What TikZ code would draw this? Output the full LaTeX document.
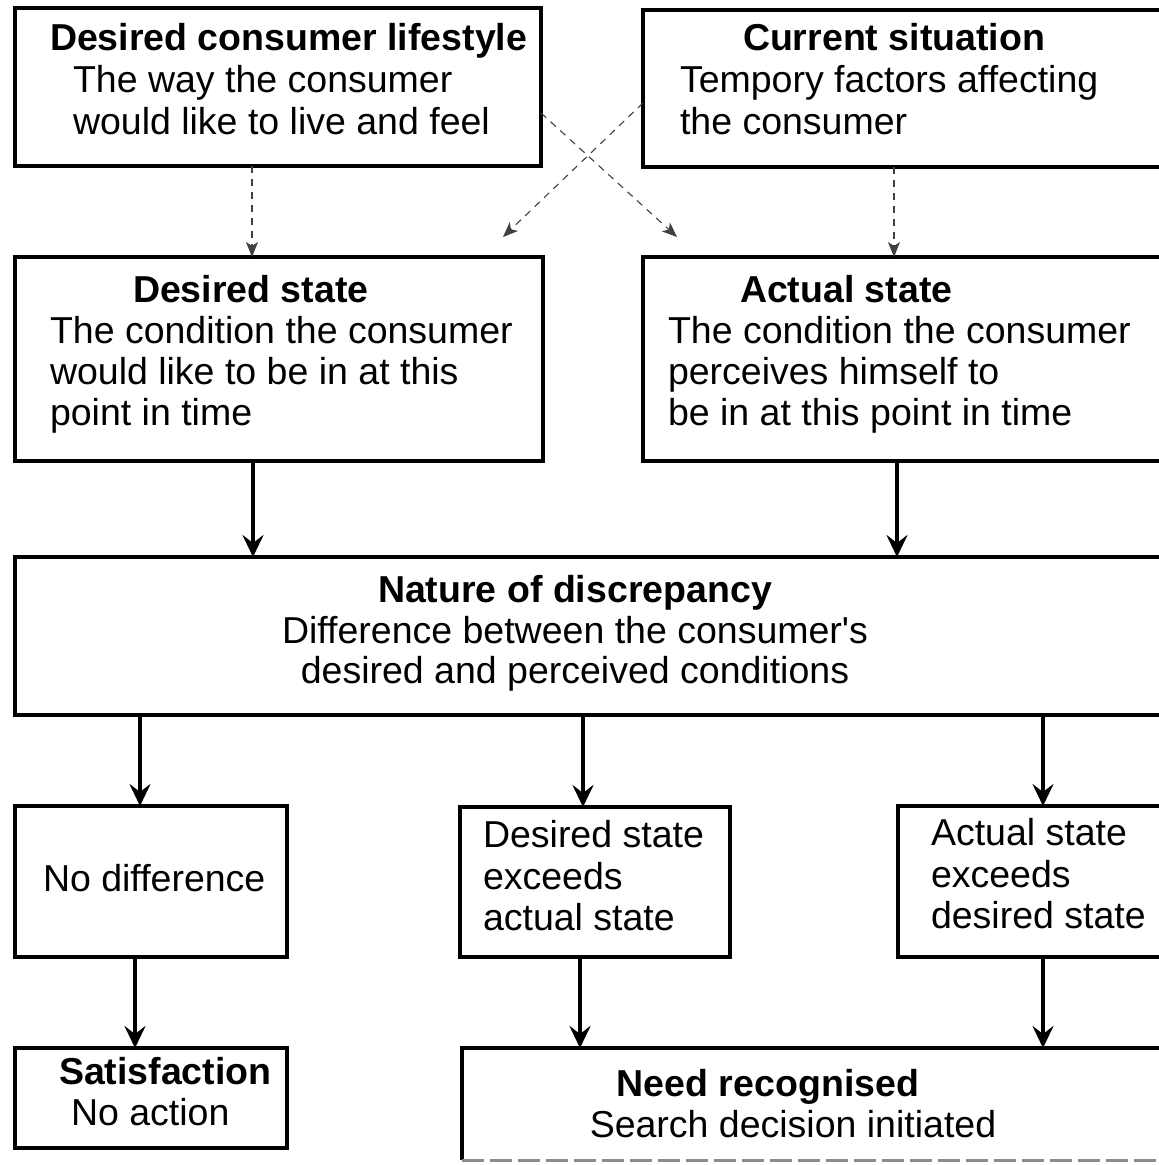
\documentclass[tikz,border=0pt]{standalone}
\usepackage{fontspec}
\setmainfont{Liberation Sans}
\usetikzlibrary{arrows.meta}
\begin{document}
\begin{tikzpicture}[x=1pt,y=-1pt,
  box/.style={draw, line width=4.8pt, rectangle, inner sep=0pt, outer sep=0pt},
  openbox/.style={rectangle, inner sep=0pt, outer sep=0pt},
  edge/.style={line width=4.8pt},
  txt/.style={inner sep=0pt, outer sep=0pt, anchor=base west,
    font=\fontsize{37.5}{41}\selectfont},
  ctxt/.style={txt, anchor=base},
  hd/.style={font=\fontsize{37.5}{41}\selectfont\bfseries},
  arr/.style={line width=4pt, -{Stealth[length=22pt,width=21pt,inset=8pt]}},
  darr/.style={line width=1.1pt, draw=black!75, dash pattern=on 7pt off 6pt,
    -{Stealth[length=15pt,width=12pt,inset=4pt]}}
]
\useasboundingbox (0,0) rectangle (1159,1165);
\clip (0,0) rectangle (1159,1165);
\fill[white] (0,0) rectangle (1159,1165);

% boxes
\node[box, minimum width=526pt, minimum height=158pt] (b1) at (278,87) {};
\node[box, minimum width=532pt, minimum height=157pt] (b2) at (909,88.5) {};
\node[box, minimum width=528pt, minimum height=204pt] (b3) at (279,359) {};
\node[box, minimum width=532pt, minimum height=204pt] (b4) at (909,359) {};
\node[box, minimum width=1160pt, minimum height=158pt] (b5) at (595,636) {};
\node[box, minimum width=272pt, minimum height=151pt] (b6) at (151,881.5) {};
\node[box, minimum width=270pt, minimum height=150pt] (b7) at (595,882) {};
\node[box, minimum width=277pt, minimum height=151pt] (b8) at (1036.5,881.5) {};
\node[box, minimum width=272pt, minimum height=100pt] (b9) at (151,1098) {};
\node[openbox, minimum width=713pt, minimum height=112pt] (b10) at (818.5,1104) {};
\draw[edge] (b10.south west) -- (b10.north west) -- (b10.north east);
\draw[line width=3pt, draw=black!45, dash pattern=on 22pt off 6pt]
  (b10.south west) -- (b10.south east);

% texts
\node[txt, hd] (t1a) at (50,50) {Desired consumer lifestyle};
\node[txt] (t1b) at (73,92) {The way the consumer};
\node[txt] (t1c) at (73,134) {would like to live and feel};

\node[txt, hd] (t2a) at (743,50) {Current situation};
\node[txt] (t2b) at (680,92) {Tempory factors affecting};
\node[txt] (t2c) at (680,134) {the consumer};

\node[txt, hd] (t3a) at (133,302) {Desired state};
\node[txt] (t3b) at (50,343) {The condition the consumer};
\node[txt] (t3c) at (50,384) {would like to be in at this};
\node[txt] (t3d) at (50,425) {point in time};

\node[txt, hd] (t4a) at (740,302) {Actual state};
\node[txt] (t4b) at (668,343) {The condition the consumer};
\node[txt] (t4c) at (668,384) {perceives himself to};
\node[txt] (t4d) at (668,425) {be in at this point in time};

\node[ctxt, hd] (t5a) at (575,602) {Nature of discrepancy};
\node[ctxt] (t5b) at (575,643) {Difference between the consumer\textquotesingle s};
\node[ctxt] (t5c) at (575,683) {desired and perceived conditions};

\node[txt] (t6a) at (43,891) {No difference};

\node[txt] (t7a) at (483,847) {Desired state};
\node[txt] (t7b) at (483,889) {exceeds};
\node[txt] (t7c) at (483,930) {actual state};

\node[txt] (t8a) at (931,845) {Actual state};
\node[txt] (t8b) at (931,887) {exceeds};
\node[txt] (t8c) at (931,928) {desired state};

\node[txt, hd] (t9a) at (59,1084) {Satisfaction};
\node[txt] (t9b) at (71,1125) {No action};

\node[ctxt, hd] (t10a) at (768,1096) {Need recognised};
\node[ctxt] (t10b) at (793,1137) {Search decision initiated};

% column positions of the connectors
\coordinate (ca) at (252,0);
\coordinate (cb) at (894,0);
\coordinate (cc) at (253,0);
\coordinate (cd) at (897,0);
\coordinate (ce) at (140,0);
\coordinate (cf) at (135,0);
\coordinate (cg) at (583,0);
\coordinate (ch) at (580,0);
\coordinate (ci) at (1043,0);
\coordinate (xl) at (503,237);
\coordinate (xr) at (677,237);

% influence arrows (dashed)
\draw[darr] (b1.south -| ca) -- (b3.north -| ca);
\draw[darr] (b2.south -| cb) -- (b4.north -| cb);
\draw[darr] ([yshift=-26pt]b1.east) -- (xr);
\draw[darr] ([yshift=-14.5pt]b2.west) -- (xl);

% flow arrows
\draw[arr] (b3.south -| cc) -- (b5.north -| cc);
\draw[arr] (b4.south -| cd) -- (b5.north -| cd);
\draw[arr] (b5.south -| ce) -- (b6.north -| ce);
\draw[arr] (b5.south -| cg) -- (b7.north -| cg);
\draw[arr] (b5.south -| ci) -- (b8.north -| ci);
\draw[arr] (b6.south -| cf) -- (b9.north -| cf);
\draw[arr] (b7.south -| ch) -- (b10.north -| ch);
\draw[arr] (b8.south -| ci) -- (b10.north -| ci);
\end{tikzpicture}
\end{document}
